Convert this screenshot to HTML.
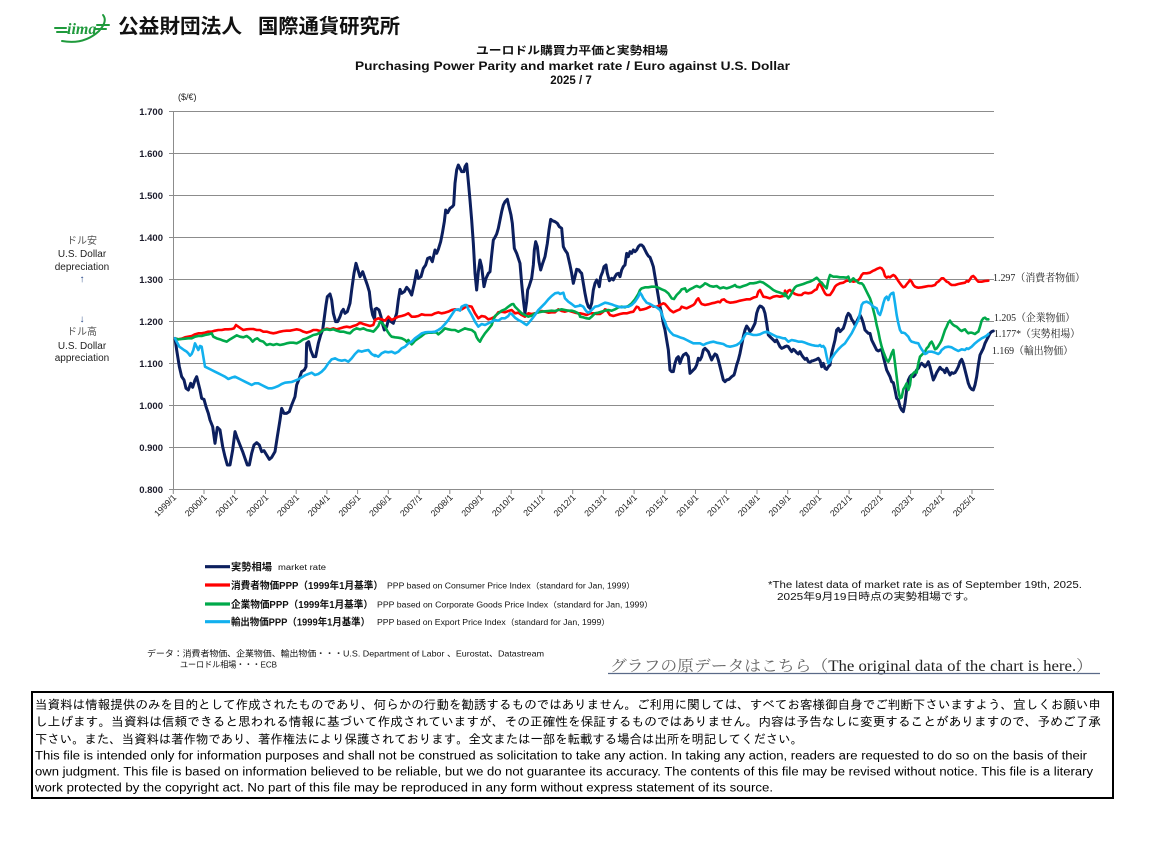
<!DOCTYPE html>
<html><head><meta charset="utf-8"><style>
html,body{margin:0;padding:0;background:#fff;}
svg{display:block;}
.jp{font-family:"Liberation Sans","Noto Sans CJK JP",sans-serif;}
.ax{font-family:"Liberation Sans",sans-serif;font-size:9.5px;font-weight:bold;fill:#1c1c2c;}
.xl{font-family:"Liberation Sans",sans-serif;font-size:8.8px;fill:#222;}
.lab{font-family:"Liberation Serif","Noto Serif CJK JP","Noto Serif CJK SC",serif;font-size:10.5px;fill:#222;}
.s{fill:none;stroke-linejoin:round;stroke-linecap:round;vector-effect:non-scaling-stroke;}
.nv{stroke:#0c1f5e;stroke-width:3;}
.rd{stroke:#ff0000;stroke-width:2.6;}
.gr{stroke:#00a94a;stroke-width:2.6;}
.bl{stroke:#12b0ee;stroke-width:2.6;}
</style></head><body>
<svg width="1156" height="841" viewBox="0 0 1156 841" xmlns="http://www.w3.org/2000/svg">
<rect width="1156" height="841" fill="#fff"/>

<!-- Logo -->
<g stroke="#1f9a3c" stroke-width="2" fill="none" stroke-linecap="round">
  <line x1="55" y1="28" x2="66" y2="28"/>
  <line x1="57" y1="32" x2="67" y2="32"/>
  <line x1="97" y1="25" x2="109" y2="25"/>
  <line x1="95" y1="29" x2="106" y2="29"/>
  <path d="M62,41 Q84,45 99,31 Q108,21 103,15"/>
</g>
<text x="67" y="34" font-family="Liberation Serif,serif" font-style="italic" font-weight="bold" font-size="16" fill="#1f9a3c">iima</text>
<text x="118" y="33" class="jp" font-size="20" font-weight="bold" fill="#111" textLength="124" lengthAdjust="spacingAndGlyphs">公益財団法人</text>
<text x="258" y="33" class="jp" font-size="20" font-weight="bold" fill="#111" textLength="142" lengthAdjust="spacingAndGlyphs">国際通貨研究所</text>

<!-- Titles -->
<text x="476" y="54" class="jp" font-size="11" font-weight="bold" fill="#111" textLength="192" lengthAdjust="spacingAndGlyphs">ユーロドル購買力平価と実勢相場</text>
<text x="355" y="70" font-family="Liberation Sans,sans-serif" font-size="11.5" font-weight="bold" fill="#111" textLength="435" lengthAdjust="spacingAndGlyphs">Purchasing Power Parity and market rate / Euro against  U.S. Dollar</text>
<text x="571" y="84" text-anchor="middle" font-family="Liberation Sans,sans-serif" font-size="11.5" font-weight="bold" fill="#111">2025 / 7</text>
<text x="178" y="100" font-family="Liberation Sans,sans-serif" font-size="9" fill="#222">($/€)</text>

<!-- Left side labels -->
<g class="jp" font-size="10" fill="#222" text-anchor="middle">
  <text x="82" y="244" fill="#555">ドル安</text>
  <text x="82" y="257">U.S. Dollar</text>
  <text x="82" y="270">depreciation</text>
  <text x="82" y="282" fill="#2a4a8a">↑</text>
  <text x="82" y="322" fill="#2a4a8a">↓</text>
  <text x="82" y="335" fill="#555">ドル高</text>
  <text x="82" y="349">U.S. Dollar</text>
  <text x="82" y="361">appreciation</text>
</g>

<!-- Gridlines -->
<g stroke="#8c8c8c" stroke-width="1">
  <line x1="169" y1="111.5" x2="994" y2="111.5"/>
  <line x1="169" y1="153.5" x2="994" y2="153.5"/>
  <line x1="169" y1="195.5" x2="994" y2="195.5"/>
  <line x1="169" y1="237.5" x2="994" y2="237.5"/>
  <line x1="169" y1="279.5" x2="994" y2="279.5"/>
  <line x1="169" y1="321.5" x2="994" y2="321.5"/>
  <line x1="169" y1="363.5" x2="994" y2="363.5"/>
  <line x1="169" y1="405.5" x2="994" y2="405.5"/>
  <line x1="169" y1="447.5" x2="994" y2="447.5"/>
  <line x1="169" y1="489.5" x2="994" y2="489.5"/>
  <line x1="173.5" y1="111" x2="173.5" y2="490"/>
  <line x1="173.3" y1="489" x2="173.3" y2="494"/>
  <line x1="204.0" y1="489" x2="204.0" y2="494"/>
  <line x1="234.7" y1="489" x2="234.7" y2="494"/>
  <line x1="265.5" y1="489" x2="265.5" y2="494"/>
  <line x1="296.2" y1="489" x2="296.2" y2="494"/>
  <line x1="326.9" y1="489" x2="326.9" y2="494"/>
  <line x1="357.6" y1="489" x2="357.6" y2="494"/>
  <line x1="388.3" y1="489" x2="388.3" y2="494"/>
  <line x1="419.1" y1="489" x2="419.1" y2="494"/>
  <line x1="449.8" y1="489" x2="449.8" y2="494"/>
  <line x1="480.5" y1="489" x2="480.5" y2="494"/>
  <line x1="511.2" y1="489" x2="511.2" y2="494"/>
  <line x1="541.9" y1="489" x2="541.9" y2="494"/>
  <line x1="572.7" y1="489" x2="572.7" y2="494"/>
  <line x1="603.4" y1="489" x2="603.4" y2="494"/>
  <line x1="634.1" y1="489" x2="634.1" y2="494"/>
  <line x1="664.8" y1="489" x2="664.8" y2="494"/>
  <line x1="695.5" y1="489" x2="695.5" y2="494"/>
  <line x1="726.3" y1="489" x2="726.3" y2="494"/>
  <line x1="757.0" y1="489" x2="757.0" y2="494"/>
  <line x1="787.7" y1="489" x2="787.7" y2="494"/>
  <line x1="818.4" y1="489" x2="818.4" y2="494"/>
  <line x1="849.1" y1="489" x2="849.1" y2="494"/>
  <line x1="879.9" y1="489" x2="879.9" y2="494"/>
  <line x1="910.6" y1="489" x2="910.6" y2="494"/>
  <line x1="941.3" y1="489" x2="941.3" y2="494"/>
  <line x1="972.0" y1="489" x2="972.0" y2="494"/>
</g>

<!-- Y labels -->
<g class="ax" text-anchor="end">
  <text x="163" y="115">1.700</text>
  <text x="163" y="157">1.600</text>
  <text x="163" y="199">1.500</text>
  <text x="163" y="241">1.400</text>
  <text x="163" y="283">1.300</text>
  <text x="163" y="325">1.200</text>
  <text x="163" y="367">1.100</text>
  <text x="163" y="409">1.000</text>
  <text x="163" y="451">0.900</text>
  <text x="163" y="493">0.800</text>
</g>

<!-- X labels -->
<g class="xl" text-anchor="end">
  <text transform="translate(176.8,498) rotate(-45)">1999/1</text>
  <text transform="translate(207.5,498) rotate(-45)">2000/1</text>
  <text transform="translate(238.2,498) rotate(-45)">2001/1</text>
  <text transform="translate(269.0,498) rotate(-45)">2002/1</text>
  <text transform="translate(299.7,498) rotate(-45)">2003/1</text>
  <text transform="translate(330.4,498) rotate(-45)">2004/1</text>
  <text transform="translate(361.1,498) rotate(-45)">2005/1</text>
  <text transform="translate(391.8,498) rotate(-45)">2006/1</text>
  <text transform="translate(422.6,498) rotate(-45)">2007/1</text>
  <text transform="translate(453.3,498) rotate(-45)">2008/1</text>
  <text transform="translate(484.0,498) rotate(-45)">2009/1</text>
  <text transform="translate(514.7,498) rotate(-45)">2010/1</text>
  <text transform="translate(545.4,498) rotate(-45)">2011/1</text>
  <text transform="translate(576.2,498) rotate(-45)">2012/1</text>
  <text transform="translate(606.9,498) rotate(-45)">2013/1</text>
  <text transform="translate(637.6,498) rotate(-45)">2014/1</text>
  <text transform="translate(668.3,498) rotate(-45)">2015/1</text>
  <text transform="translate(699.0,498) rotate(-45)">2016/1</text>
  <text transform="translate(729.8,498) rotate(-45)">2017/1</text>
  <text transform="translate(760.5,498) rotate(-45)">2018/1</text>
  <text transform="translate(791.2,498) rotate(-45)">2019/1</text>
  <text transform="translate(821.9,498) rotate(-45)">2020/1</text>
  <text transform="translate(852.6,498) rotate(-45)">2021/1</text>
  <text transform="translate(883.4,498) rotate(-45)">2022/1</text>
  <text transform="translate(914.1,498) rotate(-45)">2023/1</text>
  <text transform="translate(944.8,498) rotate(-45)">2024/1</text>
  <text transform="translate(975.5,498) rotate(-45)">2025/1</text>
</g>

<!-- Market rate (navy) -->
<g transform="translate(170,150) scale(0.33333)">
<polyline class="s nv" points="15,565 20,600 28,650 35,680 42,690 48,715 55,720 62,700 68,712 75,690 80,680 85,700 90,720 95,745 102,748 108,770 115,790 120,810 128,830 135,880 142,832 150,840 158,890 165,920 172,945 180,945 188,900 195,845 202,865 210,885 218,905 225,925 232,945 238,945 245,910 252,885 260,878 268,885 275,905 282,902 290,915 298,928 305,922 315,905 322,860 330,810 335,775 342,790 350,790 358,785 365,765 375,740 380,705 388,685 395,665 403,660 408,650 410,580 416,575 422,600 430,620 437,620 445,580 452,555 458,540 462,510 468,465 472,440 480,432 485,450 490,490 497,515 503,515 510,500 515,485 520,478 525,490 532,485 540,460 545,420 552,370 558,340 564,360 570,380 578,365 585,385 592,405 598,425 603,470 608,495 614,508 615,478"/>
</g>
<g transform="translate(375,150) scale(0.33333)">
<polyline class="s nv" points="0,478 5,475 12,480 18,500 22,520 28,540 35,530 40,510 48,515 55,520 60,505 65,490 70,450 75,418 80,430 88,425 95,412 102,420 110,435 118,400 125,362 130,385 138,380 145,355 152,345 158,325 165,322 172,335 180,300 185,310 190,298 197,275 202,250 208,215 212,180 218,188 225,175 232,170 236,165 240,100 245,60 250,45 255,55 260,65 267,65 270,50 275,42 280,95 285,150 290,210 295,280 300,370 305,420 310,365 315,330 320,350 327,410 333,385 340,370 345,365 350,315 355,270 360,262 365,252 370,235 375,210 380,185 385,165 390,155 397,148 402,170 408,195 412,220 418,295 425,310 430,325 435,340 440,400 445,450 450,490 455,455 458,420 462,410 470,385 475,345 478,300 482,275 487,290 492,335 497,360 503,340 510,320 517,280 522,240 527,208 532,212 540,215 547,220 553,230 560,235 565,290 570,300 577,310 585,345 590,370 595,400 600,380 605,358 612,360 615,365"/>
</g>
<g transform="translate(580,150) scale(0.33333)">
<polyline class="s nv" points="0,365 5,370 10,400 15,430 20,455 25,470 30,475 35,460 40,420 45,400 50,390 55,400 58,410 62,380 68,365 72,350 78,345 82,370 88,392 95,385 100,390 105,380 110,372 115,370 120,380 125,360 130,350 135,345 140,310 145,320 150,305 155,310 160,300 165,305 170,300 175,290 180,285 185,285 190,290 195,300 200,310 205,318 210,322 215,335 220,350 225,380 230,410 235,440 240,470 245,490 250,520 255,540 260,570 265,600 270,660 275,665 280,665 285,640 290,625 295,620 300,640 305,625 310,615 318,610 325,620 330,670 335,665 340,660 345,655 350,645 355,625 360,630 365,620 370,600 375,595 380,600 385,605 390,618 395,630 400,620 405,612 410,615 415,630 420,650 425,670 430,690 435,695 440,690 447,688 455,680 462,675 465,665 470,645 475,630 480,610 485,585 490,560 495,540 500,528 505,535 510,545 515,540 520,530 525,520 530,490 535,475 540,468 545,470 550,475 555,490 560,520 565,555 570,560 575,565 580,570 585,575 590,570 595,580 600,590 605,595 610,593 615,590"/>
</g>
<g transform="translate(785,150) scale(0.33333)">
<polyline class="s nv" points="0,590 5,588 10,590 15,598 20,605 25,598 30,602 35,608 40,612 45,605 50,615 55,622 60,628 65,625 70,635 75,637 80,633 85,632 90,630 95,628 100,625 105,632 110,650 115,640 120,655 125,658 130,650 135,645 140,610 145,590 150,570 155,540 160,535 165,545 170,540 175,535 180,520 185,500 190,490 195,495 200,508 205,515 210,525 215,515 220,505 225,495 230,505 235,520 240,540 245,545 250,550 255,550 260,570 265,580 270,590 275,600 280,603 285,600 290,598 295,620 300,640 305,660 310,670 315,680 320,695 325,698 330,720 335,745 340,750 345,770 350,780 355,785 360,760 365,720 370,690 375,680 380,675 385,680 390,675 395,660 400,655 405,645 410,640 415,645 420,650 425,645 430,635 435,650 440,670 445,690 450,680 455,668 460,660 465,652 470,658 475,660 480,668 485,655 490,665 495,675 500,668 505,670 510,668 515,660 520,650 525,635 530,628 535,640 540,660 545,680 550,700 555,712 560,718 565,720 570,705 575,680 580,645 585,615 590,605 595,595 600,580 605,570 610,560 615,550 620,545 625,543"/>
</g>

<!-- CPI PPP (red) -->
<g transform="translate(170,150) scale(0.33333)">
<polyline class="s rd" points="15,565 25,568 35,566 45,562 55,560 65,558 75,553 85,550 95,550 105,548 115,545 125,545 135,542 145,540 155,540 165,538 175,538 185,537 192,535 198,525 205,530 212,535 220,540 230,538 240,537 250,537 260,540 270,540 280,545 290,545 300,548 310,550 320,548 330,545 340,543 350,542 360,542 370,540 380,538 390,540 400,545 410,548 420,545 430,540 440,540 450,543 460,540 470,536 480,538 490,535 500,538 510,535 520,532 530,530 540,532 550,528 560,525 570,518 580,522 590,525 600,528 610,525 615,510"/>
</g>
<g transform="translate(375,150) scale(0.33333)">
<polyline class="s rd" points="0,510 10,505 20,508 30,512 40,500 50,510 60,505 70,500 80,498 90,495 100,490 110,500 120,500 130,498 140,493 150,495 160,495 170,495 180,490 190,487 200,490 210,488 220,485 230,480 240,478 250,480 260,478 270,472 280,468 290,470 300,490 310,505 320,498 330,500 340,508 350,505 360,500 370,487 380,485 390,487 400,483 410,480 420,490 430,488 440,495 450,500 460,490 470,492 480,490 490,487 500,483 510,485 520,488 530,487 540,487 550,478 560,483 570,485 580,482 590,485 600,488 610,490 615,490"/>
</g>
<g transform="translate(580,150) scale(0.33333)">
<polyline class="s rd" points="0,490 10,492 20,495 30,490 40,490 50,492 60,492 70,485 75,478 80,480 90,495 100,498 110,495 120,492 130,490 140,490 150,487 160,485 170,470 175,472 180,480 190,478 200,475 210,470 215,465 220,470 230,470 240,465 250,460 255,462 262,470 270,480 280,487 290,482 300,478 305,470 310,472 320,475 330,470 340,465 345,460 350,450 355,445 360,455 365,462 375,465 385,463 395,460 405,458 415,455 420,457 425,450 432,448 440,455 450,458 460,457 470,455 480,452 490,450 500,448 510,448 520,443 530,440 535,425 540,420 545,430 550,440 560,442 570,445 580,440 590,438 600,440 610,438 615,425"/>
</g>
<g transform="translate(785,150) scale(0.33333)">
<polyline class="s rd" points="0,422 5,430 10,422 15,420 20,425 30,432 40,435 50,435 55,430 60,428 70,430 80,428 90,420 95,418 100,405 105,400 110,410 115,420 120,430 125,435 135,435 140,428 145,420 150,410 155,405 165,400 175,398 185,392 195,392 205,395 215,393 220,390 225,385 230,375 235,370 245,370 255,368 265,362 270,360 275,357 280,355 285,353 290,355 295,362 300,378 305,383 310,380 315,382 320,378 325,375 330,378 335,385 340,393 345,400 350,407 355,412 360,410 365,403 370,397 375,390 380,395 385,405 390,410 395,412 400,413 410,412 420,410 430,408 440,408 450,405 455,398 460,395 465,390 470,385 475,385 480,390 485,395 490,397 495,402 500,405 510,405 520,402 530,400 540,398 545,393 550,395 555,388 560,380 565,378 570,383 575,390 580,395 590,395 600,393 610,392"/>
</g>

<!-- CGPI PPP (green) -->
<g transform="translate(170,150) scale(0.33333)">
<polyline class="s gr" points="15,565 25,568 35,567 45,566 55,565 65,565 75,560 85,558 95,558 105,555 115,553 125,550 130,560 140,565 150,568 160,572 170,575 180,568 190,562 200,556 210,560 220,562 230,558 240,565 248,575 255,568 262,565 270,572 280,575 290,585 300,582 310,585 320,582 330,585 340,583 350,580 360,578 370,578 380,580 390,575 400,568 410,565 420,560 430,555 440,553 450,548 460,540 470,538 480,540 490,538 500,542 510,545 520,545 530,548 540,550 550,540 560,535 570,538 580,535 590,540 600,542 610,545 615,540"/>
</g>
<g transform="translate(375,150) scale(0.33333)">
<polyline class="s gr" points="0,540 10,528 15,515 22,520 30,530 38,545 45,555 50,560 60,562 70,563 80,565 90,570 95,575 100,570 105,578 110,583 115,578 120,572 130,565 140,558 150,550 160,548 170,548 180,547 185,548 190,553 200,545 210,535 220,538 230,540 240,540 250,545 260,540 270,535 280,538 290,540 300,548 305,562 310,570 315,575 320,565 330,550 340,538 350,525 355,510 360,498 370,490 380,482 390,478 400,470 410,463 415,462 420,470 430,480 440,490 450,495 460,500 470,497 480,490 490,487 500,485 510,484 520,483 530,482 540,483 550,480 560,478 570,480 580,482 590,482 600,485 610,490 615,497"/>
</g>
<g transform="translate(580,150) scale(0.33333)">
<polyline class="s gr" points="0,500 10,502 20,505 28,506 35,500 45,490 55,488 65,485 75,482 85,480 95,482 105,478 115,472 125,470 135,472 145,468 155,460 165,448 175,432 180,420 185,415 195,412 205,412 215,410 225,410 235,413 245,418 255,422 265,430 275,445 282,447 290,435 300,425 305,418 315,415 320,425 330,418 340,413 345,410 350,408 360,412 370,405 375,400 380,402 390,408 400,410 410,408 420,415 430,412 440,415 450,412 460,408 465,405 470,410 480,412 490,408 500,405 510,400 520,400 530,398 540,395 550,398 560,405 570,412 580,420 590,425 600,428 610,432 615,438"/>
</g>
<g transform="translate(785,150) scale(0.33333)">
<polyline class="s gr" points="0,430 5,438 10,445 15,438 20,430 25,420 30,412 35,408 45,405 55,402 65,398 75,395 85,390 95,383 100,388 105,395 110,398 115,405 120,410 125,415 130,390 135,375 140,378 145,380 155,380 165,382 175,382 185,383 190,380 195,395 200,390 205,385 210,390 215,393 220,398 225,400 230,400 235,405 240,415 245,425 250,435 255,445 260,460 265,480 270,500 275,525 280,545 285,570 290,590 295,605 300,618 305,630 310,635 315,625 320,610 325,600 330,640 335,680 340,720 345,745 350,742 355,718 360,710 365,700 370,720 375,705 378,680 385,670 390,665 395,668 400,640 405,620 410,615 415,610 420,605 425,595 430,590 435,580 440,575 445,585 450,598 455,595 460,588 465,580 470,570 475,555 480,540 485,530 490,518 495,512 500,520 505,525 510,528 515,530 520,535 525,540 530,543 535,540 540,538 545,545 550,550 555,548 560,548 565,550 570,552 575,548 580,545 585,530 590,512 595,505 600,503 605,508 610,508"/>
</g>

<!-- Export PPP (light blue) -->
<g transform="translate(170,150) scale(0.33333)">
<polyline class="s bl" points="15,565 20,575 28,590 35,595 42,600 50,605 55,610 60,617 65,612 70,600 75,580 80,590 85,600 90,588 95,590 100,620 105,650 115,655 125,660 135,665 145,670 155,675 165,680 175,687 185,683 195,680 205,685 215,690 225,695 235,700 245,705 255,700 265,700 275,705 285,710 295,715 305,715 315,712 325,708 335,702 345,698 355,697 365,696 375,692 385,688 395,682 405,676 415,672 425,668 435,675 445,672 455,665 465,655 475,640 485,628 495,625 505,630 515,632 525,630 535,635 545,625 555,612 565,602 575,605 585,602 595,600 605,612 615,618"/>
</g>
<g transform="translate(375,150) scale(0.33333)">
<polyline class="s bl" points="0,615 10,620 20,610 30,605 40,607 50,605 60,610 70,605 80,595 90,590 100,580 110,575 120,565 130,558 140,550 150,547 160,546 170,546 180,545 190,540 200,533 210,522 220,510 230,495 240,480 250,478 255,482 260,470 270,465 275,465 280,478 290,495 300,515 310,530 320,522 330,525 340,520 350,515 360,510 370,512 380,505 390,505 400,498 405,490 410,492 420,503 430,510 440,515 450,522 455,525 460,520 470,508 480,495 490,480 500,470 510,460 520,448 530,438 540,430 550,428 555,432 565,428 570,445 580,455 590,462 600,470 610,468 615,467"/>
</g>
<g transform="translate(580,150) scale(0.33333)">
<polyline class="s bl" points="0,465 10,470 15,478 20,485 25,488 30,485 35,480 45,470 55,468 65,463 75,458 85,460 95,463 105,467 115,470 125,472 135,470 145,470 155,465 165,455 175,440 180,428 185,435 190,445 200,458 210,462 220,468 230,472 240,480 245,490 250,505 255,515 260,530 270,545 280,555 290,558 300,562 310,565 320,570 330,575 340,580 350,580 360,580 370,585 380,580 390,577 400,575 410,578 420,580 430,582 440,588 450,590 460,588 470,585 480,578 490,565 495,555 500,550 510,552 520,555 530,555 540,553 550,548 560,545 570,550 580,555 590,560 600,562 610,565 615,565"/>
</g>
<g transform="translate(785,150) scale(0.33333)">
<polyline class="s bl" points="0,565 5,570 10,575 20,570 30,572 40,575 50,575 60,578 70,582 80,585 90,587 100,588 105,585 110,590 115,588 120,595 125,620 130,640 135,635 140,625 150,610 160,598 170,588 180,580 190,565 200,550 210,530 220,510 225,490 230,465 235,458 245,455 255,460 265,470 275,475 280,490 285,495 290,480 295,460 300,445 305,440 310,450 315,435 320,430 325,428 330,460 335,495 340,520 345,540 350,548 355,548 360,550 365,555 370,560 375,570 380,575 390,578 400,580 405,590 410,598 415,605 420,612 425,610 430,605 440,605 450,608 460,612 465,608 470,600 480,592 490,590 500,592 510,598 520,603 530,598 540,600 545,595 550,597 560,590 570,580 580,572 590,565 600,560 605,557 610,552"/>
</g>

<!-- End labels -->
<text x="993" y="281" class="lab" textLength="92" lengthAdjust="spacingAndGlyphs">1.297（消費者物価）</text>
<text x="994" y="321" class="lab" textLength="81" lengthAdjust="spacingAndGlyphs">1.205（企業物価）</text>
<text x="994" y="337" class="lab" textLength="86" lengthAdjust="spacingAndGlyphs">1.177*（実勢相場）</text>
<text x="992" y="354" class="lab" textLength="81" lengthAdjust="spacingAndGlyphs">1.169（輸出物価）</text>

<!-- Legend -->
<g stroke-width="3.2">
  <line x1="205" y1="566.7" x2="230" y2="566.7" stroke="#0c1f5e"/>
  <line x1="205" y1="585" x2="230" y2="585" stroke="#ff0000"/>
  <line x1="205" y1="604" x2="230" y2="604" stroke="#00a94a"/>
  <line x1="205" y1="621.7" x2="230" y2="621.7" stroke="#12b0ee"/>
</g>
<g class="jp" fill="#111">
  <text x="231" y="570.5" font-size="10" font-weight="bold" textLength="41" lengthAdjust="spacingAndGlyphs">実勢相場</text>
  <text x="278" y="570" font-size="8" textLength="48" lengthAdjust="spacingAndGlyphs">market rate</text>
  <text x="231" y="588.8" font-size="10" font-weight="bold" textLength="152" lengthAdjust="spacingAndGlyphs">消費者物価PPP（1999年1月基準）</text>
  <text x="387" y="588.3" font-size="8" textLength="248" lengthAdjust="spacingAndGlyphs">PPP based on Consumer Price Index（standard for Jan, 1999）</text>
  <text x="231" y="607.8" font-size="10" font-weight="bold" textLength="142" lengthAdjust="spacingAndGlyphs">企業物価PPP（1999年1月基準）</text>
  <text x="377" y="607.3" font-size="8" textLength="276" lengthAdjust="spacingAndGlyphs">PPP based on Corporate Goods Price Index（standard for Jan, 1999）</text>
  <text x="231" y="625.5" font-size="10" font-weight="bold" textLength="139" lengthAdjust="spacingAndGlyphs">輸出物価PPP（1999年1月基準）</text>
  <text x="377" y="625" font-size="8" textLength="233" lengthAdjust="spacingAndGlyphs">PPP based on Export Price Index（standard for Jan, 1999）</text>
  <text x="147" y="656.5" font-size="8.3" textLength="397" lengthAdjust="spacingAndGlyphs">データ：消費者物価、企業物価、輸出物価・・・U.S. Department of Labor 、Eurostat、Datastream</text>
  <text x="180" y="667.5" font-size="8.3" textLength="97" lengthAdjust="spacingAndGlyphs">ユーロドル相場・・・ECB</text>
  <text x="768" y="588" font-size="10" textLength="314" lengthAdjust="spacingAndGlyphs">*The latest data of market rate is as of September 19th, 2025.</text>
  <text x="777" y="600" font-size="10" textLength="198" lengthAdjust="spacingAndGlyphs">2025年9月19日時点の実勢相場です。</text>
</g>

<!-- Link -->
<text x="610" y="671" font-family="Liberation Serif,'Noto Serif CJK JP','Noto Serif CJK SC',serif" font-size="15.5" textLength="483" lengthAdjust="spacingAndGlyphs"><tspan fill="#666">グラフの原データはこちら（</tspan><tspan fill="#222">The original data of the chart is here.</tspan><tspan fill="#666">）</tspan></text>
<line x1="608" y1="673.5" x2="1100" y2="673.5" stroke="#5a6a88" stroke-width="1.2"/>

<!-- Disclaimer box -->
<rect x="32" y="692" width="1081" height="106" fill="none" stroke="#000" stroke-width="2"/>
<g font-family="'Liberation Sans','IPAGothic','Noto Sans CJK JP',sans-serif" fill="#000">
  <text x="35" y="709" font-size="12.5" textLength="1066" lengthAdjust="spacingAndGlyphs">当資料は情報提供のみを目的として作成されたものであり、何らかの行動を勧誘するものではありません。ご利用に関しては、すべてお客様御自身でご判断下さいますよう、宜しくお願い申</text>
  <text x="35" y="726" font-size="12.5" textLength="1066" lengthAdjust="spacingAndGlyphs">し上げます。当資料は信頼できると思われる情報に基づいて作成されていますが、その正確性を保証するものではありません。内容は予告なしに変更することがありますので、予めご了承</text>
  <text x="35" y="743.5" font-size="12.5" textLength="768" lengthAdjust="spacingAndGlyphs">下さい。また、当資料は著作物であり、著作権法により保護されております。全文または一部を転載する場合は出所を明記してください。</text>
  <text x="35" y="759.5" font-size="11.5" textLength="1052" lengthAdjust="spacingAndGlyphs">This file is intended only for information purposes and shall not be construed as solicitation to take any action. In taking any action, readers are requested to do so on the basis of their</text>
  <text x="35" y="775.5" font-size="11.5" textLength="1058" lengthAdjust="spacingAndGlyphs">own judgment. This file is based on information believed to be reliable, but we do not guarantee its accuracy. The contents of this file may be revised without notice. This file is a literary</text>
  <text x="35" y="791.5" font-size="11.5" textLength="738" lengthAdjust="spacingAndGlyphs">work protected by the copyright act. No part of this file may be reproduced in any form without express statement of its source.</text>
</g>
</svg>
</body></html>
